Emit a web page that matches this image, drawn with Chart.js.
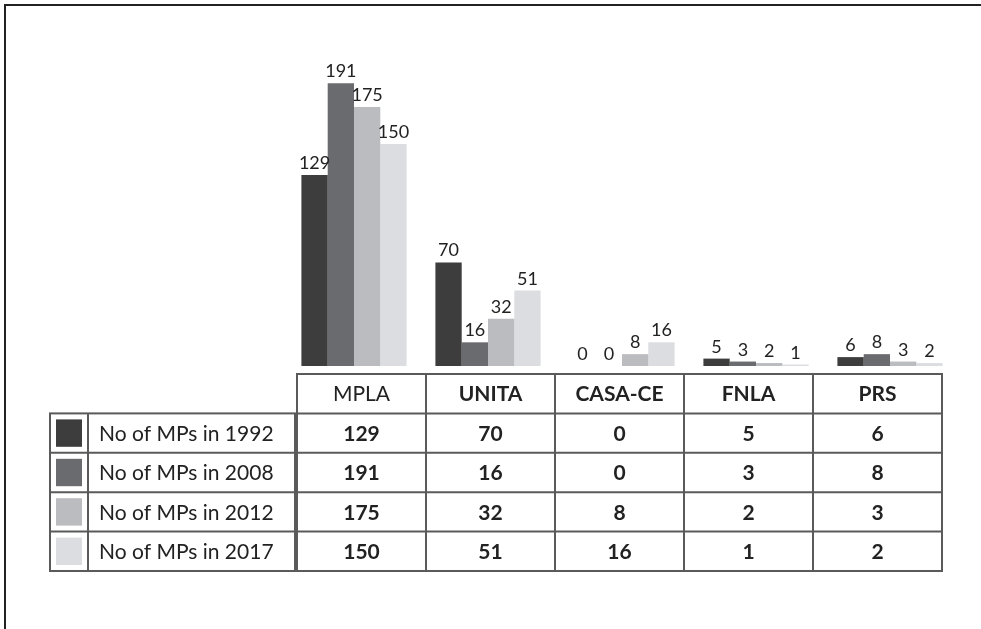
<!DOCTYPE html>
<html>
<head>
<meta charset="utf-8">
<script src="https://cdn.jsdelivr.net/npm/chart.js@4.4.1/dist/chart.umd.min.js"></script>
<style>
  html, body { margin: 0; padding: 0; background: #fff; }
  #wrap { position: relative; width: 981px; height: 629px; }
</style>
</head>
<body>
<div id="wrap"><canvas id="mpsChart" width="981" height="629"></canvas></div>
<script>
// chart data
const parties = ['MPLA', 'UNITA', 'CASA-CE', 'FNLA', 'PRS'];
const seriesLabels = ['No of MPs in 1992', 'No of MPs in 2008', 'No of MPs in 2012', 'No of MPs in 2017'];
const mps1992 = [129, 70, 0, 5, 6];
const mps2008 = [191, 16, 0, 3, 8];
const mps2012 = [175, 32, 8, 2, 3];
const mps2017 = [150, 51, 16, 1, 2];

const seriesValues = [mps1992, mps2008, mps2012, mps2017];
const colors = ['#3d3d3d', '#6a6b6f', '#bbbcc0', '#dcdde0'];
const FONT = 'Lato, Carlito, Calibri, sans-serif';

// value labels above each bar
const valueLabels = {
    id: 'valueLabels',
    afterDatasetsDraw(chart) {
        const ctx = chart.ctx;
        ctx.save();
        ctx.font = '18px ' + FONT;
        ctx.fillStyle = '#222';
        ctx.textAlign = 'center';
        ctx.textBaseline = 'alphabetic';
        chart.data.datasets.forEach((ds, di) => {
            chart.getDatasetMeta(di).data.forEach((bar, i) => {
                ctx.fillText(String(ds.data[i]), bar.x, bar.y - 6);
            });
        });
        ctx.restore();
    }
};

// data table under the bars + outer frame
const dataTable = {
    id: 'dataTable',
    afterDraw(chart) {
        const ctx = chart.ctx;
        const area = chart.chartArea;
        const left = area.left + 10;
        const right = area.right - 15;
        const colW = (right - left) / parties.length;
        const headTop = 374;
        const rowH = 39.4;
        const bodyTop = headTop + rowH;
        const bottom = bodyTop + rowH * seriesLabels.length;
        const legL = 50, legS = 88, legR = 295;

        ctx.save();
        ctx.strokeStyle = '#5a5a5a';
        ctx.lineWidth = 2;

        // main table grid
        ctx.strokeRect(left, headTop, right - left, bottom - headTop);
        for (let i = 1; i < parties.length; i++) {
            const x = left + colW * i;
            ctx.beginPath(); ctx.moveTo(x, headTop); ctx.lineTo(x, bottom); ctx.stroke();
        }
        for (let r = 1; r <= seriesLabels.length; r++) {
            const y = headTop + rowH * r;
            ctx.beginPath(); ctx.moveTo(left, y); ctx.lineTo(right, y); ctx.stroke();
        }

        // legend part of the table
        ctx.strokeRect(legL, bodyTop, legR - legL, bottom - bodyTop);
        ctx.beginPath(); ctx.moveTo(legS, bodyTop); ctx.lineTo(legS, bottom); ctx.stroke();
        for (let r = 1; r < seriesLabels.length; r++) {
            const y = bodyTop + rowH * r;
            ctx.beginPath(); ctx.moveTo(legL, y); ctx.lineTo(legR, y); ctx.stroke();
        }

        ctx.fillStyle = '#222';
        ctx.textBaseline = 'middle';

        // header
        ctx.textAlign = 'center';
        parties.forEach((p, i) => {
            ctx.font = (i === 0 ? '' : 'bold ') + '21px ' + FONT;
            ctx.fillText(p, left + colW * (i + 0.5), headTop + rowH / 2 + 1);
        });

        // rows
        seriesLabels.forEach((lab, r) => {
            const yMid = bodyTop + rowH * (r + 0.5) + 1;
            ctx.fillStyle = colors[r];
            ctx.fillRect(legL + 6, bodyTop + rowH * r + 6, legS - legL - 12, rowH - 12);
            ctx.fillStyle = '#222';
            ctx.textAlign = 'left';
            ctx.font = '21px ' + FONT;
            ctx.fillText(lab, legS + 11, yMid);
            ctx.textAlign = 'center';
            ctx.font = 'bold 21px ' + FONT;
            seriesValues[r].forEach((v, i) => {
                ctx.fillText(String(v), left + colW * (i + 0.5), yMid);
            });
        });

        // outer frame (top and left)
        ctx.strokeStyle = '#222';
        ctx.lineWidth = 2;
        ctx.beginPath();
        ctx.moveTo(5, chart.height);
        ctx.lineTo(5, 5);
        ctx.lineTo(chart.width, 5);
        ctx.stroke();
        ctx.restore();
    }
};

const datasets = seriesLabels.map((label, i) => ({
    label: label,
    data: seriesValues[i],
    backgroundColor: colors[i],
    borderWidth: 0
}));

new Chart(document.getElementById('mpsChart').getContext('2d'), {
    type: 'bar',
    data: {
        labels: parties,
        datasets: datasets
    },
    options: {
        responsive: false,
        animation: false,
        layout: {
            padding: { left: 287, right: 24, top: 70, bottom: 263 }
        },
        datasets: {
            bar: {
                categoryPercentage: 0.785,
                barPercentage: 1.0
            }
        },
        plugins: {
            legend: { display: false },
            tooltip: { enabled: false }
        },
        scales: {
            x: { display: false },
            y: { display: false, min: 0, max: 200 }
        }
    },
    plugins: [valueLabels, dataTable]
});
</script>
</body>
</html>
